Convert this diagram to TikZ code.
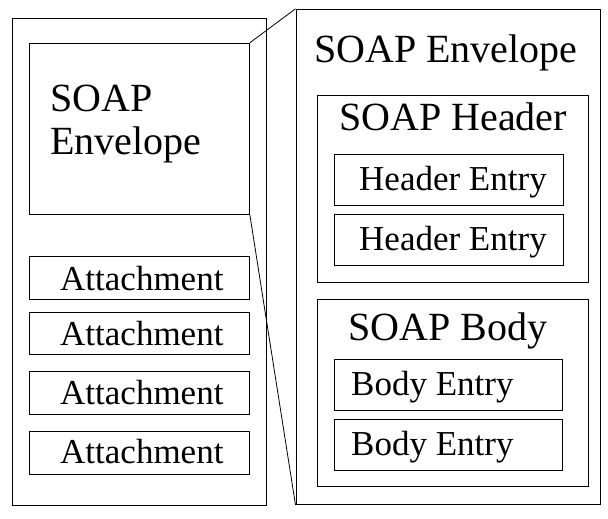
\documentclass[tikz,border=0pt]{standalone}
\usepackage{fontspec}
\setmainfont{Liberation Serif}
\begin{document}
\begin{tikzpicture}[x=1pt,y=-1pt,
  box/.style={draw=black,line width=1pt,rectangle,inner sep=0pt,fill=none},
  big/.style={anchor=base west,inner sep=0pt,font=\fontsize{40}{44}\selectfont},
  small/.style={anchor=base west,inner sep=0pt,font=\fontsize{35}{40}\selectfont},
  conn/.style={draw=black,line width=0.8pt}]
\useasboundingbox (0,0) rectangle (608,519);
% left side
\node[box,minimum width=254pt,minimum height=486.7pt] (lout) at (139.7,261.65) {};
\node[box,minimum width=220pt,minimum height=170.7pt] (env) at (139.3,128.65) {};
\node[box,minimum width=220pt,minimum height=42.6pt] (att1) at (139.3,278) {};
\node[box,minimum width=220pt,minimum height=42.7pt] (att2) at (139.3,333.35) {};
\node[box,minimum width=220pt,minimum height=42.6pt] (att3) at (139.3,393) {};
\node[box,minimum width=220pt,minimum height=43pt] (att4) at (139.3,452.5) {};
\node[big] (envt1) at (50,111.7) {SOAP};
\node[big] (envt2) at (50,154.3) {Envelope};
\node[small] (a1t) at (60,290.7) {Attachment};
\node[small] (a2t) at (60,345) {Attachment};
\node[small] (a3t) at (60,404) {Attachment};
\node[small] (a4t) at (60,463.3) {Attachment};
% right side
\node[box,minimum width=304pt,minimum height=495.2pt] (rout) at (448,256.9) {};
\node[box,minimum width=271pt,minimum height=187.7pt] (hdr) at (452.8,188.85) {};
\node[box,minimum width=229pt,minimum height=51.4pt] (he1) at (448.8,180) {};
\node[box,minimum width=229pt,minimum height=51.4pt] (he2) at (448.8,240) {};
\node[box,minimum width=271pt,minimum height=187.4pt] (bdy) at (452.8,393) {};
\node[box,minimum width=228.4pt,minimum height=50.7pt] (be1) at (448.5,384.65) {};
\node[box,minimum width=228.4pt,minimum height=51pt] (be2) at (448.5,444.5) {};
\node[big] (rt) at (314,63) {SOAP Envelope};
\node[big] (ht) at (339,130.7) {SOAP Header};
\node[small] (he1t) at (359,190) {Header Entry};
\node[small] (he2t) at (359,250) {Header Entry};
\node[big] (bt) at (348,340) {SOAP Body};
\node[small] (be1t) at (351,395) {Body Entry};
\node[small] (be2t) at (351,455) {Body Entry};
% connectors
\draw[conn] (env.north east) -- (rout.north west);
\draw[conn] (env.south east) -- (rout.south west);
\end{tikzpicture}
\end{document}
